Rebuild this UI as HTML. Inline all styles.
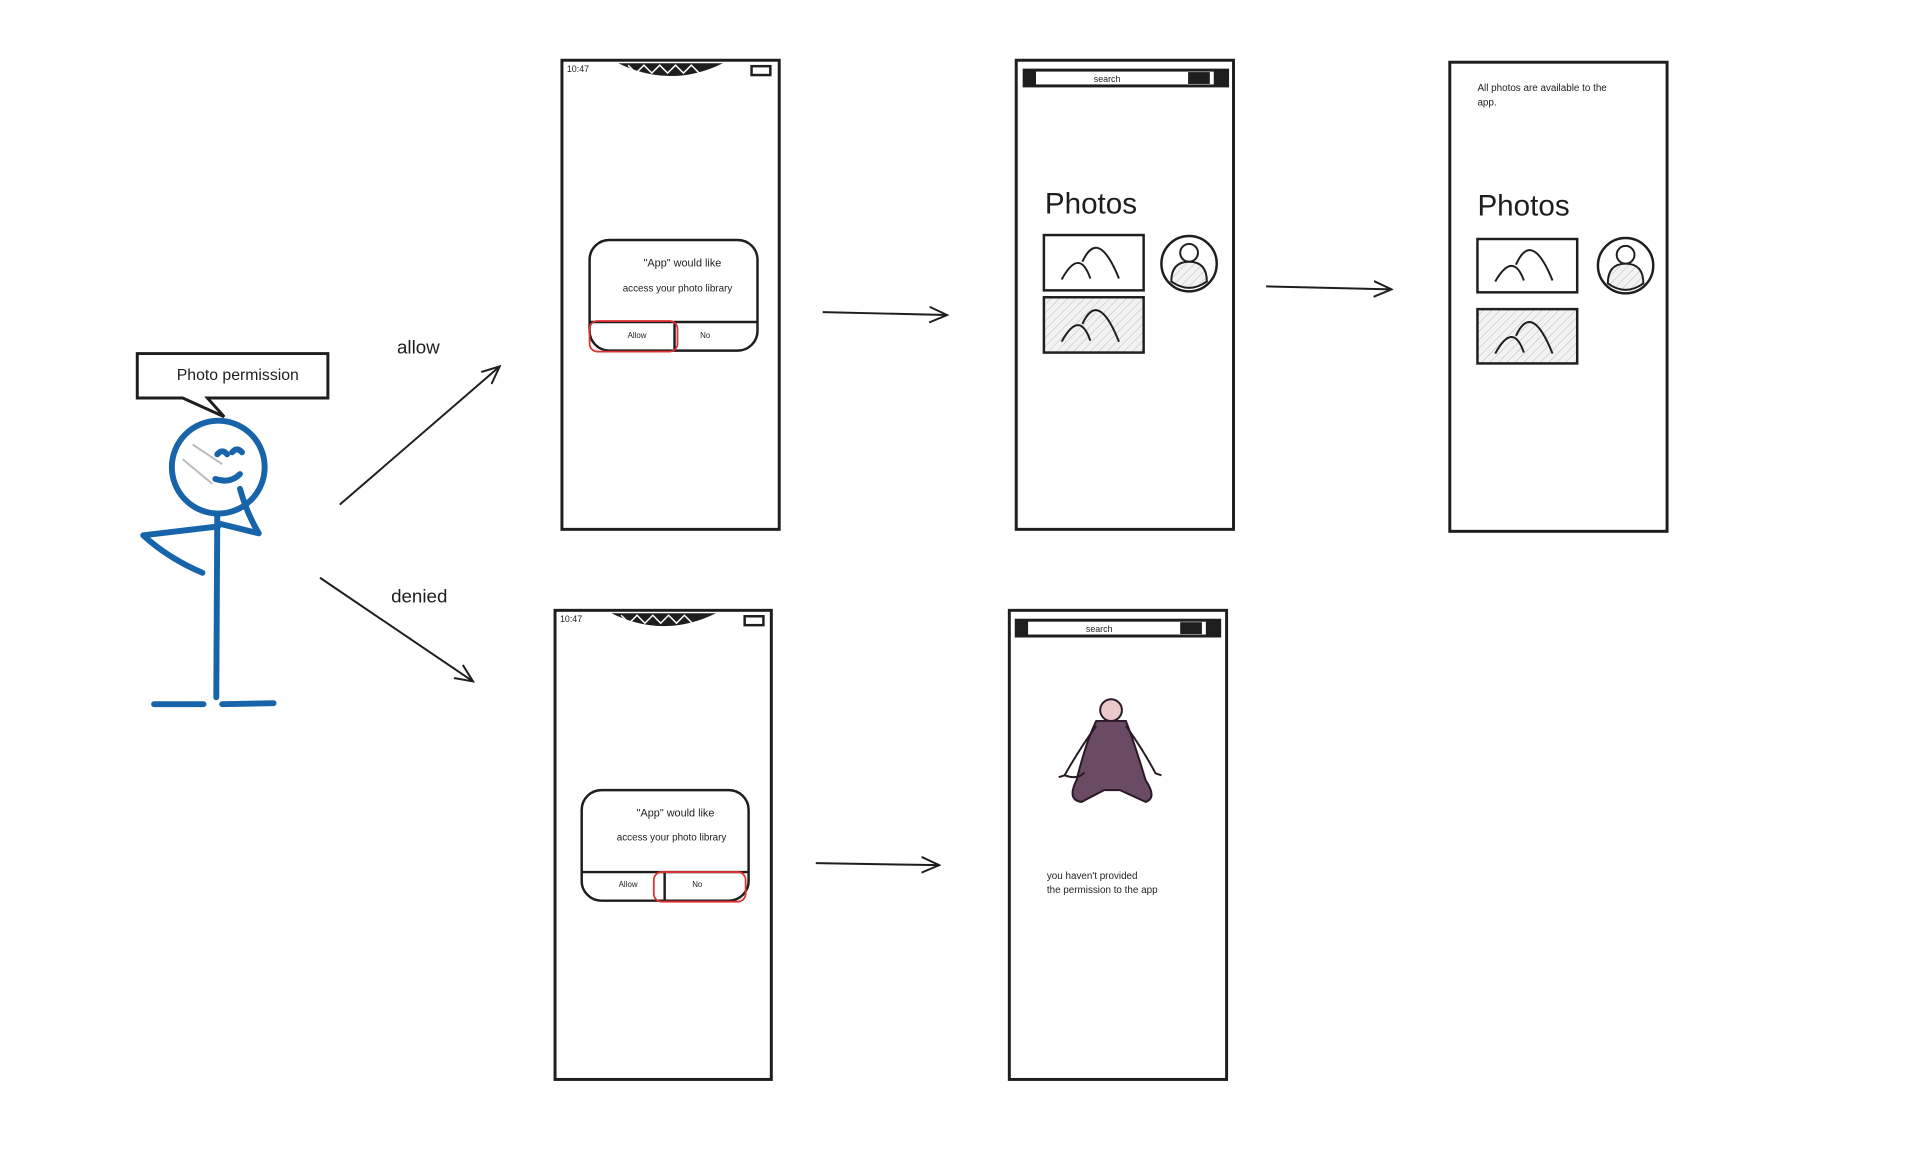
<!DOCTYPE html>
<html><head><meta charset="utf-8"><style>
html,body{margin:0;padding:0;background:#fff}
svg{display:block}
text{font-family:"Liberation Sans",sans-serif;fill:#1e1e1e}
</style></head><body>
<svg width="1920" height="1154" viewBox="0 0 1920 1154" xmlns="http://www.w3.org/2000/svg">
<defs>
<pattern id="h" width="6" height="6" patternUnits="userSpaceOnUse" patternTransform="rotate(45)">
<rect width="6" height="6" fill="#f2f2f2"/><line x1="0" y1="0" x2="0" y2="6" stroke="#bbb" stroke-width="1"/>
</pattern>
<marker id="a" markerWidth="20" markerHeight="20" refX="18" refY="10" orient="auto" markerUnits="userSpaceOnUse">
<path d="M0,2 L18,10 L0,18" fill="none" stroke="#1e1e1e" stroke-width="2"/>
</marker>
</defs>
<g transform="scale(0.9876)">
<g fill="none" stroke="#1e1e1e" stroke-width="3">
<rect x="569" y="61" width="220" height="475"/>
<rect x="1029" y="61" width="220" height="475"/>
<rect x="1468" y="63" width="220" height="475"/>
<rect x="562" y="618" width="219" height="475"/>
<rect x="1022" y="618" width="220" height="475"/>
</g>
<!-- phone A -->
<path d="M626,64 Q679,90 732,64 Z" fill="#1e1e1e"/>
<path d="M636,66 l8,8 l8,-8 l8,8 l8,-8 l8,8 l8,-8 l8,8 l8,-8 l8,8" stroke="#fff" stroke-width="1.5" fill="none"/>
<text x="574" y="73" font-size="9">10:47</text>
<rect x="761" y="67" width="19" height="9" fill="none" stroke="#1e1e1e" stroke-width="2.5"/>
<rect x="597" y="243" width="170" height="112" rx="20" fill="none" stroke="#1e1e1e" stroke-width="2.5"/>
<line x1="597" y1="326" x2="767" y2="326" stroke="#1e1e1e" stroke-width="2.5"/>
<line x1="683" y1="326" x2="683" y2="355" stroke="#1e1e1e" stroke-width="2.5"/>
<rect x="597" y="325" width="89" height="31" rx="8" fill="none" stroke="#e03131" stroke-width="1.8"/>
<text x="691" y="270" font-size="11" text-anchor="middle">"App" would like</text>
<text x="686" y="295" font-size="10" text-anchor="middle">access your photo library</text>
<text x="645" y="342" font-size="8" text-anchor="middle">Allow</text>
<text x="714" y="342" font-size="8" text-anchor="middle">No</text>
<!-- phone D -->
<path d="M619,621 Q672,647 725,621 Z" fill="#1e1e1e"/>
<path d="M629,623 l8,8 l8,-8 l8,8 l8,-8 l8,8 l8,-8 l8,8 l8,-8 l8,8" stroke="#fff" stroke-width="1.5" fill="none"/>
<text x="567" y="630" font-size="9">10:47</text>
<rect x="754" y="624" width="19" height="9" fill="none" stroke="#1e1e1e" stroke-width="2.5"/>
<rect x="589" y="800" width="169" height="112" rx="20" fill="none" stroke="#1e1e1e" stroke-width="2.5"/>
<line x1="589" y1="883" x2="758" y2="883" stroke="#1e1e1e" stroke-width="2.5"/>
<line x1="673" y1="883" x2="673" y2="912" stroke="#1e1e1e" stroke-width="2.5"/>
<rect x="662" y="883" width="93" height="30" rx="8" fill="none" stroke="#e03131" stroke-width="1.8"/>
<text x="684" y="827" font-size="11" text-anchor="middle">"App" would like</text>
<text x="680" y="851" font-size="10" text-anchor="middle">access your photo library</text>
<text x="636" y="898" font-size="8" text-anchor="middle">Allow</text>
<text x="706" y="898" font-size="8" text-anchor="middle">No</text>
<!-- phone B -->
<rect x="1037" y="71" width="206" height="16" fill="none" stroke="#1e1e1e" stroke-width="3"/>
<rect x="1037" y="71" width="12" height="16" fill="#1e1e1e"/>
<rect x="1203" y="73" width="22" height="12" fill="#1e1e1e"/>
<rect x="1229" y="71" width="14" height="16" fill="#1e1e1e"/>
<text x="1121" y="83" font-size="9" text-anchor="middle">search</text>
<text x="1058" y="216" font-size="30">Photos</text>
<rect x="1057" y="238" width="101" height="56" fill="none" stroke="#1e1e1e" stroke-width="2.5"/>
<path d="M1075,283 Q1093,250 1104,282 M1096,265 Q1112,230 1133,282" fill="none" stroke="#1e1e1e" stroke-width="2"/>
<rect x="1057" y="301" width="101" height="56" fill="url(#h)" stroke="#1e1e1e" stroke-width="2.5"/>
<path d="M1075,346 Q1093,313 1104,345 M1096,328 Q1112,293 1133,346" fill="none" stroke="#1e1e1e" stroke-width="2"/>
<circle cx="1204" cy="267" r="28" fill="none" stroke="#1e1e1e" stroke-width="2.5"/>
<circle cx="1204" cy="256" r="9" fill="none" stroke="#1e1e1e" stroke-width="2"/>
<path d="M1186,285 Q1186,265 1204,265 Q1222,265 1222,285 Q1204,298 1186,285Z" fill="url(#h)" stroke="#1e1e1e" stroke-width="2"/>
<!-- phone C -->
<text x="1496" y="92" font-size="10">All photos are available to the</text>
<text x="1496" y="107" font-size="10">app.</text>
<text x="1496" y="218" font-size="30">Photos</text>
<rect x="1496" y="242" width="101" height="54" fill="none" stroke="#1e1e1e" stroke-width="2.5"/>
<path d="M1514,285 Q1532,254 1543,284 M1535,268 Q1551,232 1572,284" fill="none" stroke="#1e1e1e" stroke-width="2"/>
<rect x="1496" y="313" width="101" height="55" fill="url(#h)" stroke="#1e1e1e" stroke-width="2.5"/>
<path d="M1514,358 Q1532,325 1543,357 M1535,340 Q1551,305 1572,358" fill="none" stroke="#1e1e1e" stroke-width="2"/>
<circle cx="1646" cy="269" r="28" fill="none" stroke="#1e1e1e" stroke-width="2.5"/>
<circle cx="1646" cy="258" r="9" fill="none" stroke="#1e1e1e" stroke-width="2"/>
<path d="M1628,287 Q1628,267 1646,267 Q1664,267 1664,287 Q1646,300 1628,287Z" fill="url(#h)" stroke="#1e1e1e" stroke-width="2"/>
<!-- phone E -->
<rect x="1029" y="628" width="206" height="16" fill="none" stroke="#1e1e1e" stroke-width="3"/>
<rect x="1029" y="628" width="12" height="16" fill="#1e1e1e"/>
<rect x="1195" y="630" width="22" height="12" fill="#1e1e1e"/>
<rect x="1221" y="628" width="14" height="16" fill="#1e1e1e"/>
<text x="1113" y="640" font-size="9" text-anchor="middle">search</text>
<g fill="#6b4a63" stroke="#2a1a26" stroke-width="2">
<path d="M1110,730 Q1100,750 1090,790 Q1080,810 1095,812 L1118,800 L1134,800 L1160,812 Q1172,808 1160,790 Q1148,750 1140,730 Z"/>
<path d="M1110,735 Q1092,760 1078,785 l-6,2 m6,-2 Q1092,790 1098,782" fill="none"/>
<path d="M1140,735 Q1158,760 1170,783 l6,2" fill="none"/>
<circle cx="1125" cy="719" r="11" fill="#e9c9c9"/>
</g>
<text x="1060" y="890" font-size="10">you haven't provided</text>
<text x="1060" y="904" font-size="10">the permission to the app</text>
<!-- arrows -->
<g stroke="#1e1e1e" stroke-width="2" fill="none" marker-end="url(#a)">
<line x1="344" y1="511" x2="506" y2="371"/>
<line x1="324" y1="585" x2="479" y2="690"/>
<line x1="833" y1="316" x2="959" y2="319"/>
<line x1="1282" y1="290" x2="1409" y2="293"/>
<line x1="826" y1="874" x2="951" y2="876"/>
</g>
<text x="402" y="358" font-size="19">allow</text>
<text x="396" y="610" font-size="19">denied</text>
<!-- speech bubble -->
<path d="M139,358 L332,358 L332,403 L210,403 L227,422 L185,403 L139,403 Z" fill="#fff" stroke="#1e1e1e" stroke-width="3"/>
<text x="179" y="385" font-size="16">Photo permission</text>
<!-- stick figure -->
<g stroke="#1864ab" stroke-width="6" fill="none" stroke-linecap="round" stroke-linejoin="round">
<circle cx="221" cy="473" r="47"/>
<line x1="220" y1="521" x2="219" y2="706"/>
<line x1="156" y1="713" x2="206" y2="713"/>
<line x1="225" y1="713" x2="277" y2="712"/>
<path d="M221,533 L145,542 Q170,565 205,580"/>
<path d="M221,530 L262,540 Q250,520 243,495"/>
<path d="M220,460 q5,-6 10,0 M235,458 q5,-6 10,0 M218,485 q15,5 25,-5"/>
</g>
<path d="M195,450 L225,470 M185,465 L215,490" stroke="#bbb" stroke-width="2"/>
</g>
</svg>
</body></html>
